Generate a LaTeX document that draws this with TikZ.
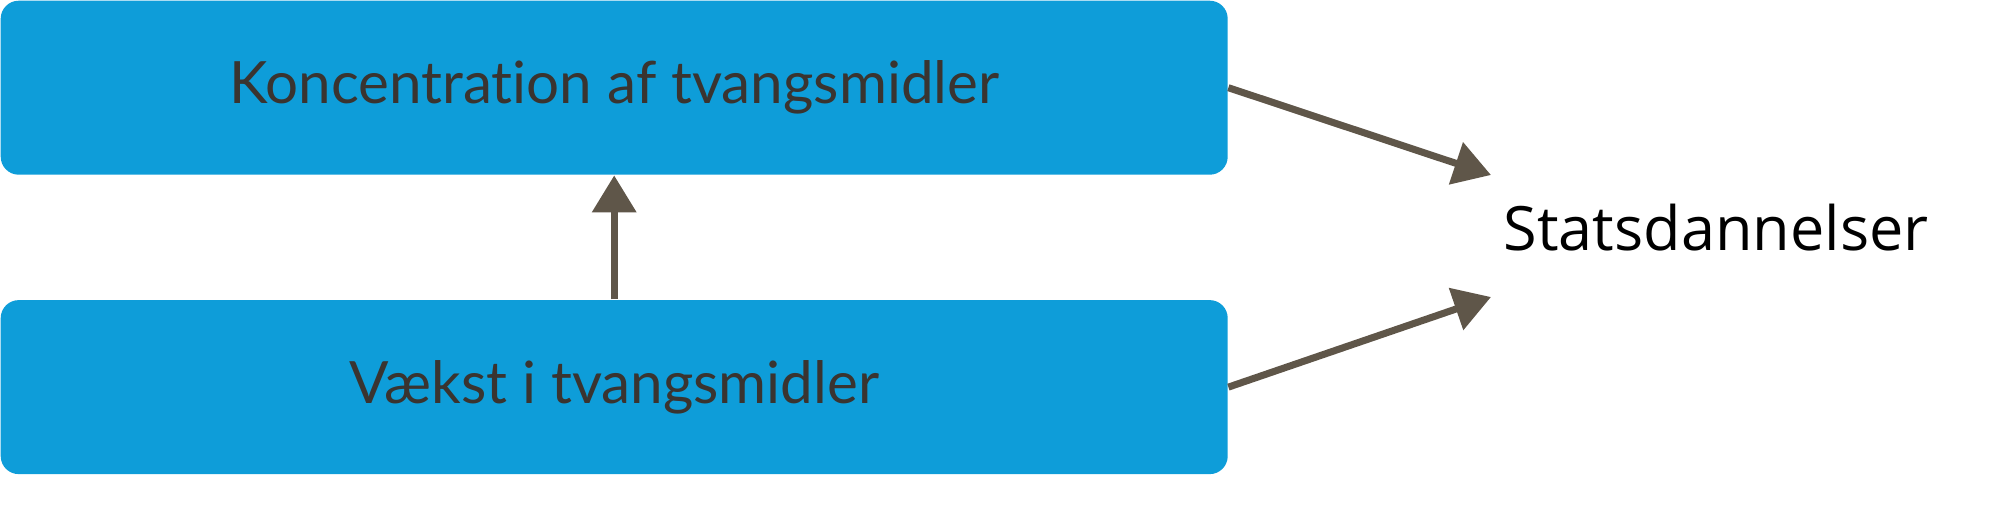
\documentclass[tikz,border=0pt]{standalone}
\usepackage{fontspec}
\setmainfont{Lato}[Ligatures=NoCommon]
\newfontfamily\statfont{Open Sans}
\usetikzlibrary{arrows.meta,positioning}
\usepackage{xcolor}
\definecolor{boxblue}{HTML}{0E9DD9}
\definecolor{arrowbrown}{HTML}{5F5649}
\definecolor{boxtext}{HTML}{3A3430}

\begin{document}
\begin{tikzpicture}[node distance=0mm, every node/.style={font=\fontsize{16.6}{19}\selectfont},
  blok/.style={rectangle,rounded corners=1.8mm,fill=boxblue,minimum width=12.27cm,minimum height=1.74cm,text=boxtext,inner sep=0pt},
  pil/.style={-{Triangle[length=3.7mm,width=4.3mm]},line width=2pt,draw=arrowbrown}]
\useasboundingbox (0,0) rectangle (20,5.13);

\node[blok,anchor=north west] (konc) at (0,5.13) {Koncentration af tvangsmidler};
\node[blok,below=1.24cm of konc] (vaekst) {Vækst i tvangsmidler};

\node[anchor=west,inner sep=0pt,font=\statfont\fontsize{17.4}{20}\selectfont] (stat) at (15.03,2.85) {Statsdannelser};
\coordinate (stat-top) at (14.91,3.38);
\coordinate (stat-bund) at (14.91,2.16);

% pile
\draw[pil] (vaekst) -- (konc);
\draw[pil] (konc.east) -- (stat-top);
\draw[pil] (vaekst.east) -- (stat-bund);
\end{tikzpicture}
\end{document}
